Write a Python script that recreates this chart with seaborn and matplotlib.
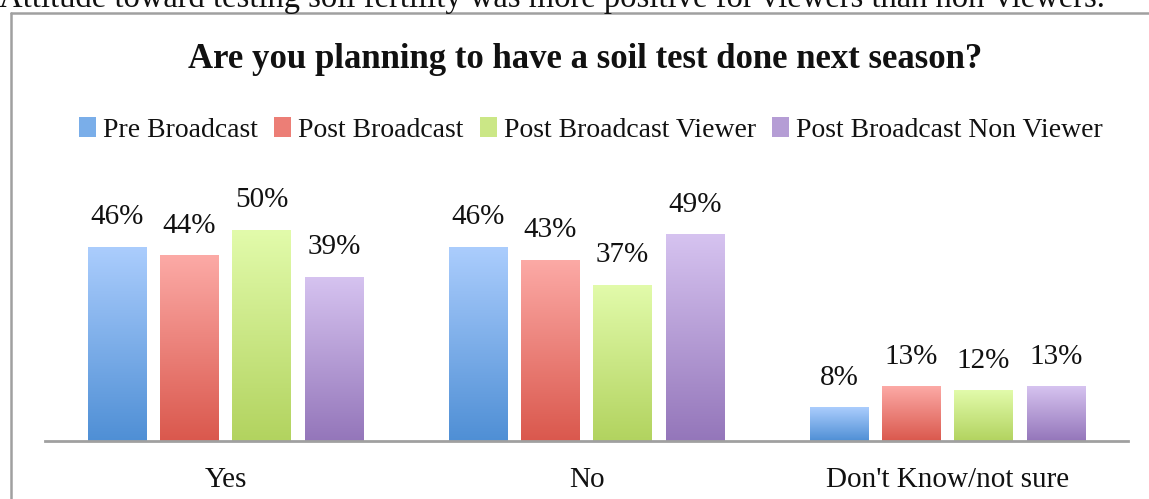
import numpy as np
import pandas as pd
import matplotlib
matplotlib.use("Agg")
import matplotlib.pyplot as plt
from matplotlib.colors import LinearSegmentedColormap
from matplotlib.patches import Patch
from matplotlib.lines import Line2D
import seaborn as sns

# ---- data ----
categories = ["Yes", "No", "Don't Know/not sure"]
series_names = ["Pre Broadcast", "Post Broadcast", "Post Broadcast Viewer",
                "Post Broadcast Non Viewer"]
pre_broadcast = [46, 46, 8]
post_broadcast = [44, 43, 13]
post_viewer = [50, 37, 12]
post_non_viewer = [39, 49, 13]

title = "Are you planning to have a soil test done next season?"
caption = "Attitude toward testing soil fertility was more positive for viewers than non-viewers."

# gradient colours (top, bottom) for each series
top_colors = ["#abcdfd", "#fcaaa6", "#e2fbab", "#d6c3f0"]
bottom_colors = ["#4f8fd5", "#da584d", "#b2d35f", "#9476ba"]
mid_colors = ["#7aaee9", "#ec7e76", "#cbe786", "#b59dd5"]

df = pd.DataFrame({
    "category": categories * 4,
    "series": np.repeat(series_names, 3),
    "value": pre_broadcast + post_broadcast + post_viewer + post_non_viewer,
})

sns.set_style("white")
serif = ["Liberation Serif", "DejaVu Serif"]
plt.rcParams["font.family"] = serif

W, H = 1149, 499
fig = plt.figure(figsize=(W / 100, H / 100), dpi=100)

# axes placed in pixel terms
ax_left, ax_right, ax_bottom_px, ax_top_px = 45, 1128, 441, 188
ax = fig.add_axes([ax_left / W, (H - ax_bottom_px) / H,
                   (ax_right - ax_left) / W, (ax_bottom_px - ax_top_px) / H])

sns.barplot(data=df, x="category", y="value", hue="series",
            hue_order=series_names, order=categories,
            palette=mid_colors, width=0.8, gap=0.19, ax=ax, legend=False,
            saturation=1)

ax.set_xlim(-0.5, 2.5)
ax.set_ylim(0, 60)

# vertical gradient fill on each bar, clipped to the bar outline
grad = np.linspace(0, 1, 256).reshape(-1, 1)
for i, cont in enumerate(ax.containers):
    cmap = LinearSegmentedColormap.from_list(f"g{i}", [top_colors[i], bottom_colors[i]])
    for bar in cont:
        x0 = bar.get_x()
        w = bar.get_width()
        h = bar.get_height()
        bar.set_edgecolor("none")
        im = ax.imshow(grad, cmap=cmap, aspect="auto",
                       extent=[x0, x0 + w, 0, h], origin="upper", zorder=3)
        im.set_clip_path(bar)
    ax.bar_label(cont, labels=[f"{int(v)}%" for v in cont.datavalues],
                 padding=12, fontsize=21, color="#111111", zorder=4)

ax.set_xlim(-0.5, 2.5)
ax.set_ylim(0, 60)
ax.set_xlabel("")
ax.set_ylabel("")
ax.set_yticks([])
for s in ["top", "right", "left"]:
    ax.spines[s].set_visible(False)
ax.spines["bottom"].set_color("#a0a0a0")
ax.spines["bottom"].set_linewidth(2)
ax.spines["bottom"].set_zorder(5)
ax.tick_params(axis="x", length=0, pad=19, labelsize=21, colors="#111111")
ax.set_facecolor("none")

# chart frame (extends past the right and bottom edges)
frame_x, frame_y = 10.5 / W, (H - 12.5) / H
fig.add_artist(Line2D([frame_x, frame_x], [0, frame_y], transform=fig.transFigure,
                      color="#a0a0a0", lw=1.8))
fig.add_artist(Line2D([frame_x, 1.0], [frame_y, frame_y], transform=fig.transFigure,
                      color="#a0a0a0", lw=1.8))

# title
fig.text(585 / W, (H - 60) / H, title, ha="center", va="center",
         fontsize=25, fontweight="bold", color="#111111")

# caption line above the frame, running off the top edge
fig.text(-1 / W, (H - 7) / H, caption, ha="left", va="baseline",
         fontsize=23.5, color="#111111")

# legend
handles = [Patch(facecolor=c, edgecolor="none") for c in mid_colors]
fig.legend(handles, series_names, loc="center", bbox_to_anchor=(591 / W, (H - 130) / H),
           ncol=4, frameon=False, fontsize=20, handlelength=0.6, handleheight=0.7,
           handletextpad=0.25, columnspacing=0.6, labelcolor="#111111")

fig.savefig("out.png", dpi=100)
